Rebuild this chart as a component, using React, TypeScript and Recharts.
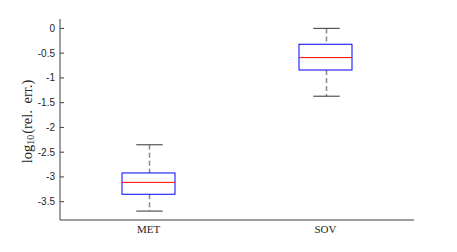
import { ComposedChart, Bar, XAxis, YAxis, Label } from "recharts";

// box plot summary per group (log10 of relative error)
const categories = ["MET", "SOV"];
const whiskerLow = [-3.69, -1.37];
const quartile1 = [-3.35, -0.84];
const medians = [-3.11, -0.59];
const quartile3 = [-2.92, -0.32];
const whiskerHigh = [-2.35, 0];
const yTicks = [0, -0.5, -1, -1.5, -2, -2.5, -3, -3.5];

const data = categories.map((name, i) => ({
  name,
  range: [whiskerLow[i], whiskerHigh[i]],
  q1: quartile1[i],
  med: medians[i],
  q3: quartile3[i],
}));

const axisColor = "#404040";

const BoxShape = (props: any) => {
  const { x, y, width, height, payload } = props;
  const [lo, hi] = payload.range;
  const top = Math.min(y, y + height);
  const h = Math.abs(height);
  const toY = (v: number) => top + ((hi - v) * h) / (hi - lo);
  const cx = Math.round(x + width / 2) + 0.5;
  const capHalf = width / 4;
  const yQ3 = toY(payload.q3);
  const yQ1 = toY(payload.q1);
  return (
    <g>
      <line x1={cx} x2={cx} y1={toY(hi)} y2={yQ3} stroke="#888" strokeWidth={1.5} strokeDasharray="5 3" />
      <line x1={cx} x2={cx} y1={yQ1} y2={toY(lo)} stroke="#888" strokeWidth={1.5} strokeDasharray="5 3" />
      <line x1={cx - capHalf} x2={cx + capHalf} y1={toY(hi)} y2={toY(hi)} stroke="#555" strokeWidth={1.2} />
      <line x1={cx - capHalf} x2={cx + capHalf} y1={toY(lo)} y2={toY(lo)} stroke="#555" strokeWidth={1.2} />
      <rect x={x} y={yQ3} width={width} height={yQ1 - yQ3} fill="none" stroke="#0000ff" strokeWidth={1} />
      <line x1={x} x2={x + width} y1={toY(payload.med)} y2={toY(payload.med)} stroke="#ff0000" strokeWidth={1} />
    </g>
  );
};

const YTick = (props: any) => {
  const { x, y, payload } = props;
  return (
    <g>
      <line x1={x + 5} x2={x + 9} y1={y} y2={y} stroke={axisColor} strokeWidth={1} />
      <text x={x} y={y} dy={3.5} textAnchor="end" fontSize={10} fontFamily="Liberation Sans, Arial, sans-serif" fill="#262626">
        {payload.value}
      </text>
    </g>
  );
};

const XTick = (props: any) => {
  const { x, y, payload } = props;
  return (
    <text x={x} y={y} dy={8} textAnchor="middle" fontSize={11} fontFamily="Liberation Serif, Times New Roman, serif" fill="#262626">
      {payload.value}
    </text>
  );
};

const YLabel = (props: any) => {
  const vb = props.viewBox;
  const cx = 27;
  const cy = vb.y + vb.height / 2 + 2;
  return (
    <text
      x={cx}
      y={cy}
      transform={`rotate(-90, ${cx}, ${cy})`}
      textAnchor="middle"
      dominantBaseline="central"
      fontSize={14.5}
      wordSpacing={3}
      fontFamily="Liberation Serif, Times New Roman, serif"
      fill="#262626"
    >
      log
      <tspan fontSize={10} dy={3}>10</tspan>
      <tspan dy={-3} dx={1}>(rel. err.)</tspan>
    </text>
  );
};

export default function App() {
  return (
    <div style={{ position: "absolute", left: 0, top: 0, background: "#fff" }}>
      <ComposedChart width={457} height={252} data={data} margin={{ top: 19, right: 43, bottom: 0, left: 0 }}>
        <XAxis
          dataKey="name"
          type="category"
          height={32}
          axisLine={{ stroke: axisColor }}
          tickLine={false}
          tickSize={0}
          tickMargin={5}
          tick={<XTick />}
        />
        <YAxis
          type="number"
          domain={[-3.87, 0.19]}
          ticks={yTicks}
          allowDataOverflow
          width={60}
          axisLine={{ stroke: axisColor }}
          tickLine={false}
          tickSize={0}
          tickMargin={5}
          tick={<YTick />}
        >
          <Label content={<YLabel />} />
        </YAxis>
        <Bar dataKey="range" barSize={53} fill="none" shape={<BoxShape />} isAnimationActive={false} />
      </ComposedChart>
    </div>
  );
}
